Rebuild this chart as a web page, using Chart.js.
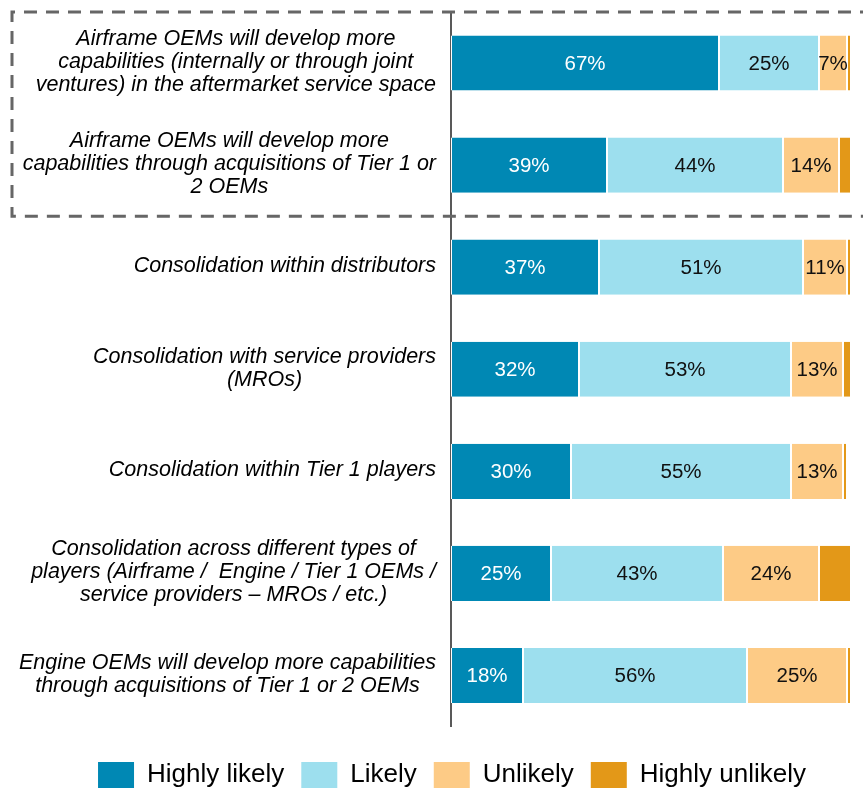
<!DOCTYPE html>
<html>
<head>
<meta charset="utf-8">
<script src="https://cdn.jsdelivr.net/npm/chart.js@4.4.1/dist/chart.umd.min.js"></script>
<style>
  html, body { margin: 0; padding: 0; background: #fff; }
</style>
</head>
<body>
<canvas id="grafica" width="863" height="791"></canvas>
<script>
// Categorias (cada una con sus saltos de linea tal como salen en la imagen)
const categorias = [
  ["Airframe OEMs will develop more", "capabilities (internally or through joint", "ventures) in the aftermarket service space"],
  ["Airframe OEMs will develop more", "capabilities through acquisitions of Tier 1 or", "2 OEMs"],
  ["Consolidation within distributors"],
  ["Consolidation with service providers", "(MROs)"],
  ["Consolidation within Tier 1 players"],
  ["Consolidation across different types of", "players (Airframe /  Engine / Tier 1 OEMs /", "service providers \u2013 MROs / etc.)"],
  ["Engine OEMs will develop more capabilities", "through acquisitions of Tier 1 or 2 OEMs"]
];

// Porcentajes por serie
const highlyLikely   = [67, 39, 37, 32, 30, 25, 18];
const likely         = [25, 44, 51, 53, 55, 43, 56];
const unlikely       = [7, 14, 11, 13, 13, 24, 25];
const highlyUnlikely = [1, 3, 1, 2, 1, 8, 1];

const nombresSeries = ["Highly likely", "Likely", "Unlikely", "Highly unlikely"];
const colores = ["#0088b4", "#9ddfee", "#fdcb86", "#e39818"];

const FUENTE = '"Liberation Sans", Arial, sans-serif';
Chart.defaults.font.family = FUENTE;

// Etiquetas de categoria: bloque alineado a la derecha, lineas centradas
const etiquetasCategorias = {
  id: "etiquetasCategorias",
  afterDraw(chart) {
    const ctx = chart.ctx;
    const yScale = chart.scales.y;
    const derecha = chart.chartArea.left - 15;
    ctx.save();
    ctx.font = "italic 21.5px " + FUENTE;
    ctx.fillStyle = "#000";
    ctx.textAlign = "center";
    ctx.textBaseline = "middle";
    categorias.forEach((lineas, i) => {
      const ancho = Math.max(...lineas.map(l => ctx.measureText(l).width));
      const cx = derecha - ancho / 2;
      const cy = yScale.getPixelForValue(i) - 1;
      lineas.forEach((l, j) => {
        ctx.fillText(l, cx, cy + (j - (lineas.length - 1) / 2) * 23);
      });
    });
    ctx.restore();
  }
};

// Porcentajes dentro de las barras (menos "Highly unlikely")
const etiquetasValores = {
  id: "etiquetasValores",
  afterDatasetsDraw(chart) {
    const ctx = chart.ctx;
    ctx.save();
    ctx.font = "20.5px " + FUENTE;
    ctx.textAlign = "center";
    ctx.textBaseline = "middle";
    chart.data.datasets.forEach((ds, d) => {
      if (d > 2) return;
      ctx.fillStyle = d === 0 ? "#fff" : "#111";
      chart.getDatasetMeta(d).data.forEach((barra, i) => {
        const p = barra.getCenterPoint();
        ctx.fillText(ds.data[i] + "%", p.x, p.y + 1);
      });
    });
    ctx.restore();
  }
};

// Recuadro punteado alrededor de las dos primeras categorias
const recuadro = {
  id: "recuadro",
  afterDraw(chart) {
    const ctx = chart.ctx;
    const yScale = chart.scales.y;
    const arriba = chart.chartArea.top;
    const abajo = (yScale.getPixelForValue(1) + yScale.getPixelForValue(2)) / 2;
    ctx.save();
    ctx.strokeStyle = "#666";
    ctx.lineWidth = 3;
    ctx.setLineDash([13, 9]);
    ctx.beginPath();
    ctx.moveTo(chart.width + 10, arriba);
    ctx.lineTo(12, arriba);
    ctx.lineTo(12, abajo);
    ctx.lineTo(chart.width + 10, abajo);
    ctx.stroke();
    ctx.restore();
  }
};

const series = [highlyLikely, likely, unlikely, highlyUnlikely];

new Chart(document.getElementById("grafica"), {
  type: "bar",
  data: {
    labels: categorias,
    datasets: series.map((valores, i) => ({
      label: nombresSeries[i],
      data: valores,
      backgroundColor: colores[i],
      borderColor: "#fff",
      borderWidth: { left: 1, right: 1, top: 0, bottom: 0 },
      borderSkipped: false,
      barPercentage: 0.54,
      categoryPercentage: 1
    }))
  },
  options: {
    indexAxis: "y",
    responsive: false,
    animation: false,
    devicePixelRatio: 1,
    layout: { padding: { left: 53, right: 12, top: 12, bottom: -7 } },
    scales: {
      x: {
        stacked: true,
        min: 0,
        max: 100,
        grid: { display: false },
        border: { display: false },
        ticks: { display: false },
        afterFit: s => { s.height = 18.5; }
      },
      y: {
        stacked: true,
        grid: { display: false, drawTicks: false },
        border: { display: true, color: "#595959", width: 2 },
        ticks: { display: false },
        afterFit: s => { s.width = 398; }
      }
    },
    plugins: {
      tooltip: { enabled: false },
      legend: {
        position: "bottom",
        labels: {
          color: "#000",
          font: { size: 26 },
          boxWidth: 36,
          boxHeight: 26,
          padding: 17,
          generateLabels(chart) {
            return Chart.defaults.plugins.legend.labels.generateLabels(chart).map(item => {
              item.lineWidth = 0;
              item.strokeStyle = "rgba(0,0,0,0)";
              return item;
            });
          }
        }
      }
    }
  },
  plugins: [etiquetasCategorias, etiquetasValores, recuadro]
});
</script>
</body>
</html>
